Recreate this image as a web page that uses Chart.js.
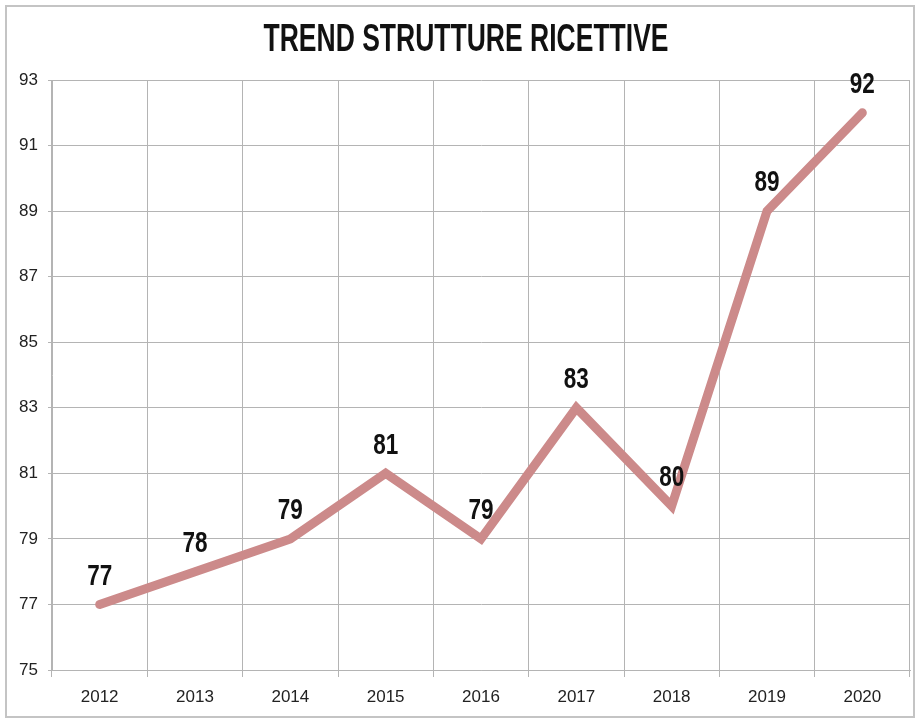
<!DOCTYPE html>
<html>
<head>
<meta charset="utf-8">
<script src="https://cdn.jsdelivr.net/npm/chart.js@4"></script>
<style>
  body { margin: 0; background: #fff; }
  canvas { display: block; }
</style>
</head>
<body>
<canvas id="chart" width="920" height="718"></canvas>
<script>
const years = ['2012', '2013', '2014', '2015', '2016', '2017', '2018', '2019', '2020'];
const strutture = [77, 78, 79, 81, 79, 83, 80, 89, 92];
const yTicks = [75, 77, 79, 81, 83, 85, 87, 89, 91, 93];
const titleText = 'TREND STRUTTURE RICETTIVE';

const sans = "'Liberation Sans', Arial, sans-serif";

// draw text squeezed horizontally (no narrow font installed)
function narrowText(ctx, text, x, y, squeeze) {
    ctx.save();
    ctx.translate(x, y);
    ctx.scale(squeeze, 1);
    ctx.fillText(text, 0, 0);
    ctx.restore();
}

// frame round the whole picture + title
const framePlugin = {
    id: 'frame',
    beforeDraw(chart) {
        const ctx = chart.ctx;
        ctx.save();
        ctx.fillStyle = '#fff';
        ctx.fillRect(0, 0, chart.width, chart.height);
        ctx.strokeStyle = '#c4c4c4';
        ctx.lineWidth = 2;
        ctx.strokeRect(6, 6, 908, 711);

        ctx.font = "bold 38px " + sans;
        ctx.fillStyle = '#111';
        ctx.textAlign = 'center';
        ctx.textBaseline = 'middle';
        const w = ctx.measureText(titleText).width;
        narrowText(ctx, titleText, 466, 41, 405 / w);
        ctx.restore();
    }
};

// value labels above each point
const valueLabels = {
    id: 'valueLabels',
    afterDatasetsDraw(chart) {
        const ctx = chart.ctx;
        const meta = chart.getDatasetMeta(0);
        ctx.save();
        ctx.font = "bold 30px " + sans;
        ctx.fillStyle = '#111';
        ctx.textAlign = 'center';
        ctx.textBaseline = 'middle';
        meta.data.forEach(function (pt, i) {
            narrowText(ctx, String(strutture[i]), pt.x, pt.y - 28, 0.75);
        });
        ctx.restore();
    }
};

new Chart(document.getElementById('chart').getContext('2d'), {
    type: 'line',
    data: {
        labels: years,
        datasets: [{
            label: 'Strutture ricettive',
            data: strutture,
            borderColor: '#cc8a8a',
            borderWidth: 9,
            borderCapStyle: 'round',
            borderJoinStyle: 'miter',
            pointRadius: 0,
            tension: 0,
            fill: false
        }]
    },
    options: {
        responsive: false,
        animation: false,
        layout: { padding: { left: 6, right: 10, top: 80, bottom: 0 } },
        plugins: {
            legend: { display: false },
            tooltip: { enabled: false },
            title: { display: false }
        },
        scales: {
            x: {
                offset: true,
                grid: {
                    offset: true,
                    color: '#b4b4b4',
                    lineWidth: 1,
                    tickLength: 7
                },
                border: { color: '#b4b4b4' },
                ticks: {
                    color: '#222',
                    font: { family: sans, size: 17 },
                    padding: 10
                },
                afterFit(s) { s.height = 48; }
            },
            y: {
                min: 75,
                max: 93,
                afterBuildTicks(s) { s.ticks = yTicks.map(v => ({ value: v })); },
                grid: {
                    color: '#b4b4b4',
                    lineWidth: 1,
                    tickLength: 4
                },
                border: { color: '#b4b4b4' },
                ticks: {
                    color: '#222',
                    font: { family: sans, size: 17 },
                    padding: 10
                },
                afterFit(s) { s.width = 46; }
            }
        }
    },
    plugins: [framePlugin, valueLabels]
});
</script>
</body>
</html>
